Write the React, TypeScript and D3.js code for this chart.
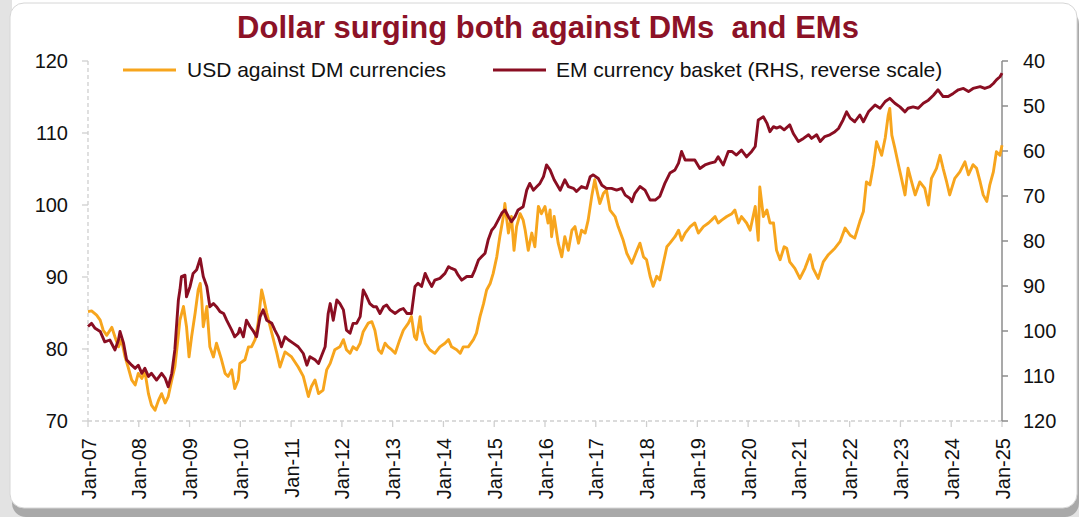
import React from 'react';
import * as d3 from 'd3';

// ---- data ----
const usdYears = [
  2007.00, 2007.07, 2007.17, 2007.24, 2007.30, 2007.37, 2007.47, 2007.53, 2007.60, 2007.66, 2007.73, 2007.79, 2007.86, 2007.93, 2007.99,
  2008.06, 2008.12, 2008.19, 2008.25, 2008.32, 2008.39, 2008.45, 2008.52, 2008.58, 2008.65, 2008.71, 2008.77, 2008.81, 2008.88, 2008.94, 2008.99,
  2009.04, 2009.11, 2009.17, 2009.21, 2009.24, 2009.27, 2009.34, 2009.40, 2009.47, 2009.53, 2009.63, 2009.70, 2009.76, 2009.83, 2009.89, 2009.96, 2009.99,
  2010.09, 2010.16, 2010.22, 2010.29, 2010.35, 2010.42, 2010.45, 2010.52, 2010.62, 2010.72, 2010.78, 2010.88,
  2011.01, 2011.14, 2011.24, 2011.34, 2011.40, 2011.47, 2011.54, 2011.63, 2011.70, 2011.77, 2011.86, 2011.96,
  2012.03, 2012.09, 2012.16, 2012.22, 2012.29, 2012.36, 2012.42, 2012.52, 2012.59, 2012.65, 2012.72, 2012.78, 2012.85, 2012.91, 2012.98,
  2013.05, 2013.14, 2013.21, 2013.31, 2013.37, 2013.43, 2013.47, 2013.54, 2013.57, 2013.64, 2013.73, 2013.83, 2013.93,
  2014.03, 2014.10, 2014.16, 2014.26, 2014.33, 2014.39, 2014.49, 2014.59, 2014.65, 2014.72, 2014.79, 2014.85, 2014.92, 2014.98,
  2015.05, 2015.11, 2015.18, 2015.21, 2015.24, 2015.28, 2015.34, 2015.39, 2015.44, 2015.51, 2015.57, 2015.61, 2015.67, 2015.74, 2015.80, 2015.87, 2015.93,
  2016.00, 2016.06, 2016.10, 2016.13, 2016.18, 2016.26, 2016.33, 2016.39, 2016.46, 2016.53, 2016.59, 2016.66, 2016.72, 2016.79, 2016.85, 2016.92, 2016.98,
  2017.02, 2017.08, 2017.15, 2017.21, 2017.28, 2017.38, 2017.44, 2017.54, 2017.61, 2017.71, 2017.81, 2017.87, 2017.94,
  2018.00, 2018.07, 2018.13, 2018.20, 2018.26, 2018.33, 2018.40, 2018.46, 2018.56, 2018.63, 2018.69, 2018.76, 2018.86, 2018.95,
  2019.02, 2019.12, 2019.22, 2019.28, 2019.35, 2019.41, 2019.48, 2019.58, 2019.68, 2019.74, 2019.81, 2019.87, 2019.97,
  2020.04, 2020.14, 2020.20, 2020.23, 2020.30, 2020.37, 2020.43, 2020.50, 2020.56, 2020.63, 2020.71, 2020.76, 2020.82, 2020.92,
  2021.02, 2021.12, 2021.22, 2021.28, 2021.38, 2021.48, 2021.58, 2021.71, 2021.81, 2021.91,
  2022.01, 2022.10, 2022.20, 2022.27, 2022.33, 2022.40, 2022.47, 2022.53, 2022.63, 2022.70, 2022.76, 2022.79, 2022.83, 2022.89, 2022.96,
  2023.02, 2023.09, 2023.15, 2023.22, 2023.29, 2023.38, 2023.48, 2023.55, 2023.61, 2023.71, 2023.78, 2023.84, 2023.91, 2023.97,
  2024.07, 2024.17, 2024.27, 2024.34, 2024.43, 2024.50, 2024.57, 2024.63, 2024.70, 2024.76, 2024.83, 2024.89, 2024.96, 2025.00,
];
const usdValues = [
  85.2, 85.3, 84.7, 84.0, 82.6, 81.9, 83.0, 81.7, 80.3, 81.3, 78.9, 77.5, 75.7, 75.0, 76.6,
  75.9, 76.9, 73.8, 72.2, 71.5, 72.9, 73.8, 72.5, 73.4, 75.7, 77.5, 81.3, 84.0, 85.9, 83.1, 78.9,
  81.7, 85.0, 88.2, 89.1, 86.8, 83.1, 85.9, 80.3, 78.9, 80.8, 78.5, 76.6, 76.2, 77.1, 74.5, 75.7, 78.0,
  78.5, 80.3, 80.3, 81.3, 83.6, 88.2, 87.3, 85.0, 82.2, 79.4, 77.5, 79.6,
  78.9, 77.5, 76.2, 73.4, 74.8, 75.7, 73.8, 74.3, 77.1, 78.0, 79.9, 80.3,
  81.3, 79.9, 79.4, 80.3, 79.9, 80.8, 82.4, 83.6, 83.8, 82.6, 79.9, 79.4, 80.8, 80.3, 79.9,
  79.4, 81.3, 82.6, 83.6, 84.5, 81.7, 81.3, 84.5, 82.6, 80.8, 79.9, 79.4, 80.3,
  80.8, 81.3, 80.3, 79.9, 79.4, 80.3, 80.3, 81.3, 82.2, 84.5, 86.3, 88.2, 89.1, 90.5,
  92.8, 95.6, 98.4, 100.2, 98.4, 96.1, 98.4, 93.7, 97.0, 98.8, 97.9, 96.5, 93.7, 96.1, 94.2, 99.8, 98.8,
  99.8, 97.5, 99.3, 95.6, 98.4, 94.7, 92.8, 95.6, 93.7, 96.5, 97.0, 94.7, 96.5, 96.1, 97.9, 101.2, 103.5,
  102.1, 100.2, 101.6, 102.1, 99.3, 98.4, 97.0, 95.1, 93.3, 91.9, 93.7, 94.7, 92.8,
  92.4, 90.1, 88.7, 90.1, 89.6, 91.9, 94.2, 94.7, 95.6, 96.5, 95.1, 96.1, 97.0, 97.5,
  96.1, 97.0, 97.5, 97.9, 98.4, 97.5, 97.9, 98.4, 98.8, 99.3, 97.5, 98.4, 97.5,
  96.5, 99.8, 95.1, 102.5, 98.4, 99.3, 97.5, 97.5, 93.7, 92.4, 94.2, 94.0, 92.1, 91.2,
  89.8, 91.2, 93.1, 91.2, 89.8, 92.1, 93.1, 94.0, 94.9, 96.8,
  95.8, 95.4, 97.7, 99.1, 103.2, 102.8, 105.6, 108.8, 106.9, 109.3, 112.5, 113.4, 109.7, 107.9, 105.6,
  103.7, 101.4, 105.1, 103.2, 101.4, 103.2, 102.3, 100.0, 103.7, 105.1, 106.9, 105.1, 103.2, 101.4,
  103.7, 104.6, 106.0, 104.2, 105.6, 105.1, 103.2, 101.4, 100.5, 102.8, 104.6, 107.4, 106.9, 108.3,
];

const emYears = [
  2007.00, 2007.07, 2007.14, 2007.24, 2007.33, 2007.43, 2007.53, 2007.60, 2007.63, 2007.70, 2007.76, 2007.86, 2007.93, 2007.99,
  2008.06, 2008.12, 2008.19, 2008.25, 2008.35, 2008.45, 2008.52, 2008.58, 2008.65, 2008.71, 2008.78, 2008.81, 2008.84, 2008.91, 2008.94,
  2009.01, 2009.07, 2009.14, 2009.21, 2009.27, 2009.34, 2009.40, 2009.47, 2009.53, 2009.60, 2009.67, 2009.73, 2009.83, 2009.89, 2009.96, 2009.99,
  2010.06, 2010.12, 2010.19, 2010.26, 2010.32, 2010.39, 2010.45, 2010.52, 2010.62, 2010.68, 2010.75, 2010.81, 2010.88, 2010.95,
  2011.04, 2011.14, 2011.24, 2011.31, 2011.37, 2011.47, 2011.54, 2011.60, 2011.67, 2011.73, 2011.77, 2011.83, 2011.90, 2011.96,
  2012.03, 2012.09, 2012.16, 2012.22, 2012.29, 2012.36, 2012.42, 2012.49, 2012.55, 2012.62, 2012.68, 2012.75, 2012.82, 2012.88, 2012.95,
  2013.05, 2013.14, 2013.21, 2013.28, 2013.37, 2013.44, 2013.50, 2013.57, 2013.64, 2013.70, 2013.77, 2013.83, 2013.93,
  2014.03, 2014.10, 2014.16, 2014.23, 2014.29, 2014.36, 2014.46, 2014.56, 2014.62, 2014.69, 2014.75, 2014.82, 2014.88, 2014.95,
  2015.01, 2015.08, 2015.15, 2015.21, 2015.28, 2015.34, 2015.41, 2015.47, 2015.57, 2015.64, 2015.70, 2015.77, 2015.84, 2015.90, 2015.97,
  2016.03, 2016.10, 2016.18, 2016.30, 2016.39, 2016.46, 2016.56, 2016.62, 2016.72, 2016.82, 2016.89, 2016.95,
  2017.05, 2017.12, 2017.21, 2017.31, 2017.41, 2017.51, 2017.58, 2017.67, 2017.71, 2017.77, 2017.87, 2017.97,
  2018.07, 2018.17, 2018.26, 2018.36, 2018.46, 2018.56, 2018.63, 2018.69, 2018.76, 2018.86, 2018.95,
  2019.05, 2019.15, 2019.25, 2019.35, 2019.41, 2019.51, 2019.61, 2019.68, 2019.77, 2019.87, 2019.97,
  2020.07, 2020.14, 2020.20, 2020.30, 2020.37, 2020.43, 2020.50, 2020.56, 2020.63, 2020.71, 2020.82, 2020.89, 2020.99,
  2021.09, 2021.19, 2021.25, 2021.35, 2021.42, 2021.51, 2021.61, 2021.71, 2021.78, 2021.87, 2021.94,
  2022.01, 2022.10, 2022.20, 2022.27, 2022.37, 2022.50, 2022.60, 2022.70, 2022.79, 2022.89, 2022.99,
  2023.09, 2023.15, 2023.25, 2023.35, 2023.45, 2023.55, 2023.65, 2023.74, 2023.84, 2023.94,
  2024.04, 2024.14, 2024.24, 2024.34, 2024.43, 2024.57, 2024.66, 2024.76, 2024.83, 2024.89, 2024.96, 2025.00,
];
const emValues = [
  99.0, 98.3, 99.4, 100.1, 102.4, 102.0, 104.2, 102.0, 100.1, 102.7, 106.4, 107.6, 108.3, 107.6,
  109.4, 108.3, 110.1, 109.4, 110.9, 109.4, 110.5, 112.4, 109.4, 104.2, 93.1, 90.9, 87.9, 87.6, 92.4,
  90.1, 87.2, 86.4, 83.9, 87.9, 90.1, 94.6, 93.9, 94.6, 95.7, 96.1, 97.6, 99.8, 101.3, 100.5, 99.4,
  101.3, 97.6, 99.0, 100.1, 101.3, 96.8, 95.3, 97.6, 98.3, 99.8, 101.3, 103.5, 101.3, 102.0,
  102.7, 103.5, 105.0, 107.6, 105.7, 106.4, 107.2, 105.5, 103.5, 96.1, 93.9, 97.6, 93.1, 93.9,
  95.3, 99.8, 100.5, 98.3, 98.3, 96.8, 90.9, 92.4, 93.9, 94.6, 94.6, 96.1, 94.6, 94.2, 95.3,
  96.1, 95.3, 95.0, 96.1, 96.1, 90.1, 89.4, 90.1, 87.2, 88.7, 90.1, 88.7, 88.3,
  87.2, 85.7, 86.1, 86.4, 87.6, 88.7, 87.9, 87.9, 86.4, 84.2, 83.5, 82.7, 79.8, 77.6,
  76.8, 75.3, 73.8, 73.1, 74.6, 75.7, 74.6, 73.1, 72.4, 68.7, 67.2, 68.7, 67.9, 67.2, 65.7,
  63.1, 64.2, 66.4, 68.7, 66.4, 67.9, 68.3, 69.0, 67.9, 68.3, 65.7, 65.3,
  66.1, 67.6, 68.3, 68.3, 68.7, 68.3, 69.8, 70.5, 71.3, 69.4, 67.9, 68.7,
  70.9, 70.9, 70.1, 67.2, 64.9, 64.2, 62.7, 60.1, 62.0, 62.0, 62.0,
  63.9, 63.1, 62.7, 62.4, 61.3, 63.1, 60.1, 60.1, 60.9, 59.8, 61.3,
  60.1, 59.0, 53.1, 52.4, 53.8, 55.7, 54.6, 54.9, 54.6, 55.3, 54.2, 56.1, 57.9,
  57.2, 56.4, 57.2, 56.4, 57.9, 56.8, 56.4, 55.7, 55.0, 53.1, 51.3,
  52.7, 53.5, 52.0, 53.5, 51.3, 49.8, 50.5, 49.0, 48.3, 49.4, 50.2,
  51.3, 50.5, 50.2, 50.5, 49.4, 48.7, 47.6, 46.4, 47.9, 47.9,
  47.2, 46.4, 46.1, 46.8, 46.1, 45.7, 46.1, 45.7, 45.0, 44.2, 43.5, 42.7,
];

const xTickYears = [2007, 2008, 2009, 2010, 2011, 2012, 2013, 2014, 2015, 2016, 2017, 2018, 2019, 2020, 2021, 2022, 2023, 2024, 2025];
const xTickLabels = ['Jan-07', 'Jan-08', 'Jan-09', 'Jan-10', 'Jan-11', 'Jan-12', 'Jan-13', 'Jan-14', 'Jan-15', 'Jan-16', 'Jan-17', 'Jan-18', 'Jan-19', 'Jan-20', 'Jan-21', 'Jan-22', 'Jan-23', 'Jan-24', 'Jan-25'];
const leftTicks = [70, 80, 90, 100, 110, 120];
const rightTicks = [40, 50, 60, 70, 80, 90, 100, 110, 120];
const chartTitle = 'Dollar surging both against DMs  and EMs';
const seriesNames = ['USD against DM currencies', 'EM currency basket (RHS, reverse scale)'];

const FONT = "'Liberation Sans', Arial, Helvetica, sans-serif";
const ORANGE = '#F7A51D';
const DARKRED = '#8A0E22';

export default function App() {
  const W = 1079;
  const H = 517;
  const L = 88, R = 1002, T = 61, B = 421;

  const x = d3.scaleLinear().domain([2007, 2025]).range([L, R]);
  const yL = d3.scaleLinear().domain([70, 120]).range([B, T]);
  const yR = d3.scaleLinear().domain([40, 120]).range([T, B]);

  const usd: [number, number][] = usdYears.map((t, i) => [t, usdValues[i]]);
  const em: [number, number][] = emYears.map((t, i) => [t, emValues[i]]);

  const lineL = d3.line<[number, number]>().x(d => x(d[0])).y(d => yL(d[1]));
  const lineR = d3.line<[number, number]>().x(d => x(d[0])).y(d => yR(d[1]));

  return (
    <svg width={W} height={H} style={{ position: 'absolute', left: 0, top: 0, display: 'block' }} fontFamily={FONT}>
      {/* frame */}
      <rect x={0} y={0} width={W} height={H} fill="#ffffff" />
      <rect x={0} y={0} width={12} height={H} fill="#e3e3e3" />
      <rect x={0} y={500} width={W} height={17} fill="#e3e3e3" />
      <rect x={12} y={10} width={W - 12} height={H - 10} rx={14} fill="#a9a9a9" />
      <rect x={10} y={3} width={W - 12} height={505} rx={14} fill="#ffffff" stroke="#d6d6d6" strokeWidth={1} />

      {/* title */}
      <text x={548} y={38} textAnchor="middle" fontSize={31} fontWeight="bold" fill="#8C1227" style={{ whiteSpace: 'pre' }}>
        {chartTitle}
      </text>

      {/* legend */}
      <line x1={123} x2={176} y1={70} y2={70} stroke={ORANGE} strokeWidth={2.8} />
      <text x={187} y={77} fontSize={21} fill="#111">{seriesNames[0]}</text>
      <line x1={493} x2={546} y1={70} y2={70} stroke={DARKRED} strokeWidth={2.8} />
      <text x={556} y={77} fontSize={21} fill="#111">{seriesNames[1]}</text>

      {/* left axis (dashed) */}
      <line x1={L} x2={L} y1={T} y2={B} stroke="#cfcfcf" strokeWidth={1.3} strokeDasharray="4,3" />
      {leftTicks.map(v => (
        <g key={'l' + v}>
          <line x1={L - 6} x2={L} y1={yL(v)} y2={yL(v)} stroke="#cfcfcf" strokeWidth={1.3} />
          <text x={68} y={yL(v)} textAnchor="end" dominantBaseline="central" fontSize={20} fill="#111">{v}</text>
        </g>
      ))}

      {/* bottom axis (dashed) */}
      <line x1={L} x2={R} y1={B} y2={B} stroke="#cfcfcf" strokeWidth={1.3} strokeDasharray="4,3" />
      {xTickYears.map((yr, i) => (
        <g key={'x' + yr}>
          <line x1={x(yr)} x2={x(yr)} y1={B} y2={B + 6} stroke="#cfcfcf" strokeWidth={1.3} />
          <text transform={`translate(${x(yr) + 7.5},${438}) rotate(-90)`} textAnchor="end" fontSize={20} fill="#111">
            {xTickLabels[i]}
          </text>
        </g>
      ))}

      {/* right axis */}
      <line x1={R} x2={R} y1={T} y2={B} stroke="#8c8c8c" strokeWidth={1.5} />
      {rightTicks.map(v => (
        <g key={'r' + v}>
          <line x1={R} x2={R + 6} y1={yR(v)} y2={yR(v)} stroke="#8c8c8c" strokeWidth={1.5} />
          <text x={1023} y={yR(v)} dominantBaseline="central" fontSize={20} fill="#111">{v}</text>
        </g>
      ))}

      {/* series */}
      <path d={lineL(usd) || ''} fill="none" stroke={ORANGE} strokeWidth={2.9} strokeLinejoin="round" />
      <path d={lineR(em) || ''} fill="none" stroke={DARKRED} strokeWidth={2.9} strokeLinejoin="round" />
    </svg>
  );
}
